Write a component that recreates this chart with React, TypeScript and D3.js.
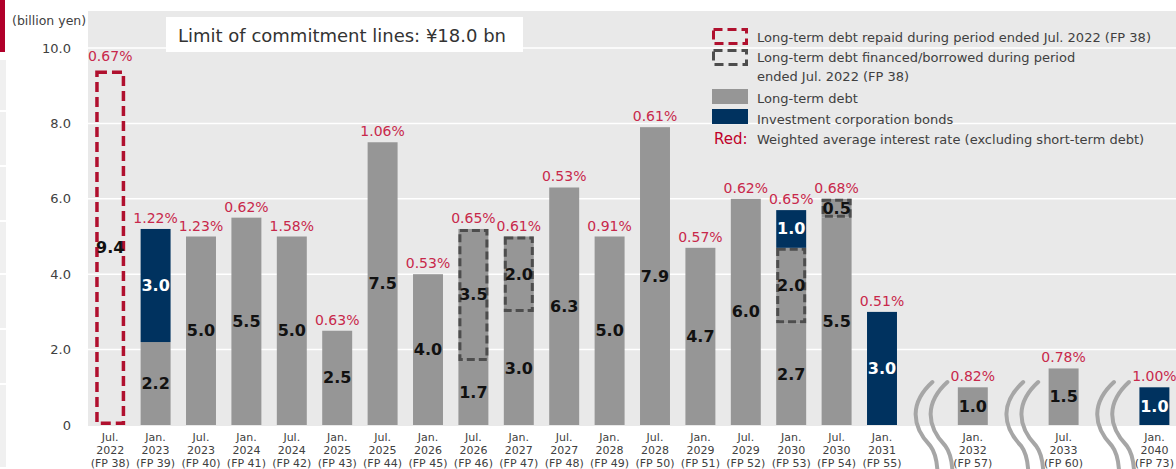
import React from 'react';
import * as d3 from 'd3';

// axis labels, one entry per repayment period
const months = ['Jul.', 'Jan.', 'Jul.', 'Jan.', 'Jul.', 'Jan.', 'Jul.', 'Jan.', 'Jul.', 'Jan.', 'Jul.', 'Jan.', 'Jul.', 'Jan.', 'Jul.', 'Jan.', 'Jul.', 'Jan.', 'Jan.', 'Jul.', 'Jan.'];
const years = ['2022', '2023', '2023', '2024', '2024', '2025', '2025', '2026', '2026', '2027', '2027', '2028', '2028', '2029', '2029', '2030', '2030', '2031', '2032', '2033', '2040'];
const periods = ['FP 38', 'FP 39', 'FP 40', 'FP 41', 'FP 42', 'FP 43', 'FP 44', 'FP 45', 'FP 46', 'FP 47', 'FP 48', 'FP 49', 'FP 50', 'FP 51', 'FP 52', 'FP 53', 'FP 54', 'FP 55', 'FP 57', 'FP 60', 'FP 73'];

// series (billion yen)
const repaid = [9.4, 0, 0, 0, 0, 0, 0, 0, 0, 0, 0, 0, 0, 0, 0, 0, 0, 0, 0, 0, 0];
const longTermDebt = [0, 2.2, 5.0, 5.5, 5.0, 2.5, 7.5, 4.0, 1.7, 3.0, 6.3, 5.0, 7.9, 4.7, 6.0, 2.7, 5.5, 0, 1.0, 1.5, 0];
const newBorrowing = [0, 0, 0, 0, 0, 0, 0, 0, 3.5, 2.0, 0, 0, 0, 0, 0, 2.0, 0.5, 0, 0, 0, 0];
const bonds = [0, 3.0, 0, 0, 0, 0, 0, 0, 0, 0, 0, 0, 0, 0, 0, 1.0, 0, 3.0, 0, 0, 1.0];
const rates = [0.67, 1.22, 1.23, 0.62, 1.58, 0.63, 1.06, 0.53, 0.65, 0.61, 0.53, 0.91, 0.61, 0.57, 0.62, 0.65, 0.68, 0.51, 0.82, 0.78, 1.0];

const yTicks = [0, 2, 4, 6, 8, 10];
// slots on the x axis, with the wavy breaks in between the far-off periods
const slots = [...periods.slice(0, 18), 'break1', 'FP 57', 'break2', 'FP 60', 'break3', 'FP 73'];
const breaks = ['break1', 'break2', 'break3'];

const W = 1176;
const H = 469;
const FONT = '"DejaVu Sans", Verdana, sans-serif';
const GRAY = '#969696';
const NAVY = '#00325f';
const RED = '#c8284b';

export default function App() {
  const x = d3.scaleBand<string>().domain(slots).range([87.5, 87.5 + 24 * 45.4]).paddingInner(0.34).paddingOuter(0.17);
  const y = d3.scaleLinear().domain([0, 10]).range([425, 48]);
  const bw = x.bandwidth();

  const rows = periods.map((p, i) => ({ period: p, ltd: longTermDebt[i], fresh: newBorrowing[i], bonds: bonds[i] }));
  const stack = d3.stack<any>().keys(['ltd', 'fresh', 'bonds'])(rows);

  return (
    <svg width={W} height={H} style={{ position: 'absolute', left: 0, top: 0, fontFamily: FONT }}>
      <rect x={0} y={0} width={W} height={H} fill="#fff" />
      {/* slide edge decoration */}
      <rect x={0} y={0} width={5} height={52} fill="#b0002a" />
      {[60, 112, 167, 222, 275, 330, 385].map((t, i, a) => (
        <rect key={t} x={0} y={t} width={6} height={(a[i + 1] ?? 469) - t - 2} fill="#f0f0f0" />
      ))}

      {/* plot area */}
      <rect x={88} y={11} width={W - 88} height={426 - 11} fill="#e9e9e9" />
      {yTicks.filter(v => v > 0).map(v => (
        <line key={v} x1={88} x2={W} y1={y(v)} y2={y(v)} stroke="#fff" strokeWidth={1.5} />
      ))}
      {yTicks.map(v => (
        <text key={v} x={71} y={y(v)} textAnchor="end" dominantBaseline="central" fontSize={13} fill="#404040">
          {v === 0 ? '0' : v.toFixed(1)}
        </text>
      ))}
      <text x={12} y={20} dominantBaseline="central" fontSize={12.5} fill="#404040">(billion yen)</text>

      {/* stacked bars */}
      {stack.map(layer => layer.map((seg, i) => {
        const v = seg[1] - seg[0];
        if (v <= 0) return null;
        const x0 = x(periods[i])!;
        const top = y(seg[1]);
        const h = y(seg[0]) - top;
        const fill = layer.key === 'bonds' ? NAVY : GRAY;
        return (
          <g key={layer.key + i}>
            <rect x={x0} y={top} width={bw} height={h} fill={fill} />
            {layer.key === 'fresh' && (
              <rect x={x0 + 1.5} y={top + 1.5} width={bw - 3} height={h - 3} fill="none"
                stroke="#4d4d4d" strokeWidth={3} strokeDasharray="8 4" />
            )}
          </g>
        );
      }))}
      {/* repaid debt (outline only) */}
      {repaid.map((v, i) => v > 0 && (
        <rect key={'r' + i} x={x(periods[i])! + 1.75} y={y(v) + 1.75} width={bw - 3.5} height={y(0) - y(v) - 3.5}
          fill="none" stroke="#b0102e" strokeWidth={3.5} strokeDasharray="10 5" />
      ))}

      {/* segment values */}
      {stack.map(layer => layer.map((seg, i) => {
        const v = seg[1] - seg[0];
        if (v <= 0) return null;
        return (
          <text key={'t' + layer.key + i} x={x(periods[i])! + bw / 2} y={y((seg[0] + seg[1]) / 2)}
            textAnchor="middle" dominantBaseline="central" fontSize={16} fontWeight="bold"
            fill={layer.key === 'bonds' ? '#fff' : '#111'}>
            {v.toFixed(1)}
          </text>
        );
      }))}
      {repaid.map((v, i) => v > 0 && (
        <text key={'rt' + i} x={x(periods[i])! + bw / 2} y={y(v / 2)} textAnchor="middle" dominantBaseline="central"
          fontSize={16} fontWeight="bold" fill="#111">{v.toFixed(1)}</text>
      ))}

      {/* interest rates */}
      {rates.map((r, i) => {
        const total = Math.max(repaid[i], longTermDebt[i] + newBorrowing[i] + bonds[i]);
        return (
          <text key={'rate' + i} x={x(periods[i])! + bw / 2} y={y(total) - (repaid[i] > 0 ? 15 : 11)}
            textAnchor="middle" dominantBaseline="central" fontSize={14} fill={RED}>
            {r.toFixed(2)}%
          </text>
        );
      })}

      {/* x axis labels */}
      {periods.map((p, i) => {
        const cx = x(p)! + bw / 2;
        return (
          <text key={'x' + p} x={cx} textAnchor="middle" fontSize={11} fill="#404040" dominantBaseline="central">
            <tspan x={cx} y={436.5}>{months[i]}</tspan>
            <tspan x={cx} y={450}>{years[i]}</tspan>
            <tspan x={cx} y={462.5}>({p})</tspan>
          </text>
        );
      })}

      {/* axis breaks */}
      {breaks.map(b => {
        const cx = x(b)! + bw / 2;
        return [5, 20].map(off => {
          const x0 = cx + off;
          return (
            <path key={b + off} d={`M${x0},382 C${x0 - 22},402 ${x0 - 22},425 ${x0 - 2},446 Q${x0 + 4},454 ${x0 + 5},470`}
              fill="none" stroke="#a6a6a6" strokeWidth={4} strokeLinecap="round" />
          );
        });
      })}

      {/* commitment line box */}
      <rect x={166} y={17} width={357} height={35} fill="#fff" />
      <text x={178} y={35} dominantBaseline="central" fontSize={18} fill="#333">Limit of commitment lines: ¥18.0 bn</text>

      {/* legend */}
      <g fontSize={13} fill="#404040">
        <rect x={713.5} y={29.5} width={33} height={14} fill="none" stroke="#b0102e" strokeWidth={3} strokeDasharray="9 5" />
        <text x={757} y={37} dominantBaseline="central">Long-term debt repaid during period ended Jul. 2022 (FP 38)</text>
        <rect x={713.5} y={50.5} width={33} height={14} fill="none" stroke="#4d4d4d" strokeWidth={3} strokeDasharray="9 5" />
        <text x={757} y={57} dominantBaseline="central">Long-term debt financed/borrowed during period</text>
        <text x={757} y={76} dominantBaseline="central">ended Jul. 2022 (FP 38)</text>
        <rect x={712} y={89} width={36} height={15} fill={GRAY} />
        <text x={757} y={98} dominantBaseline="central">Long-term debt</text>
        <rect x={712} y={109} width={36} height={15} fill={NAVY} />
        <text x={757} y={119} dominantBaseline="central">Investment corporation bonds</text>
        <text x={714} y={139} dominantBaseline="central" fontSize={15} fill="#c0002a">Red:</text>
        <text x={757} y={139} dominantBaseline="central">Weighted average interest rate (excluding short-term debt)</text>
      </g>
    </svg>
  );
}
